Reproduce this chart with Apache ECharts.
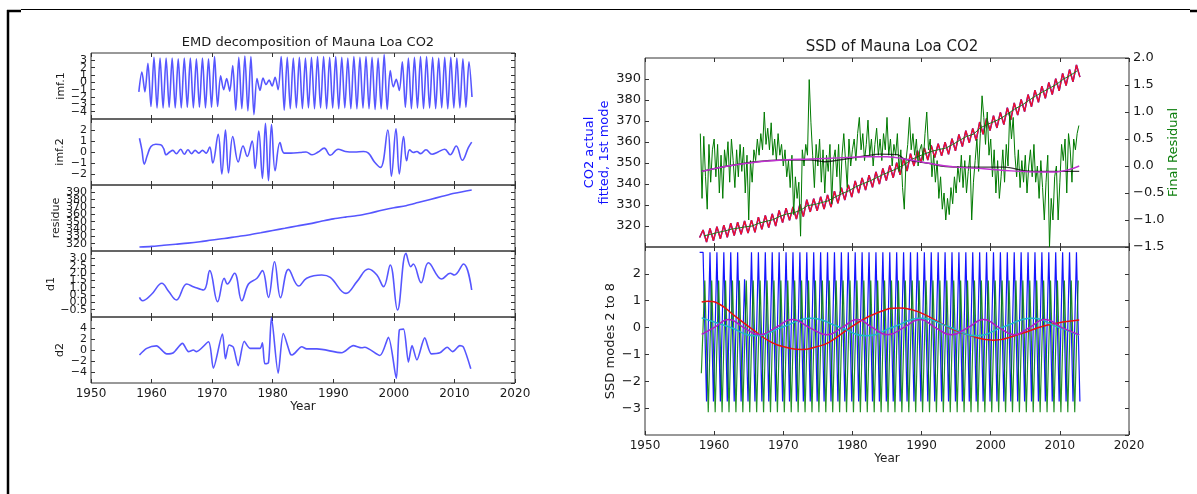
<!DOCTYPE html>
<html>
<head>
<meta charset="utf-8">
<script src="https://cdn.jsdelivr.net/npm/echarts@6/dist/echarts.min.js"></script>
<style>
html, body { margin: 0; padding: 0; background: #fff; }
#chart { width: 1197px; height: 494px; }
</style>
</head>
<body>
<div id="chart"></div>
<script>
// ---------------- data ----------------

// sampling grids: seasonal series are given as peak / trough values every half year
function halfYearGrid(start, n) {
    var t = [];
    for (var i = 0; i < n; i++) t.push(+(start + 0.5 * i).toFixed(2));
    return t;
}
function stepGrid(start, step, n) {
    var t = [];
    for (var i = 0; i < n; i++) t.push(+(start + step * i).toFixed(2));
    return t;
}
var halfYears = halfYearGrid(1957.9, 111);
var halfYearsLate = halfYearGrid(1958.15, 110);
var quarterYears = stepGrid(1958.0, 0.25, 220);
var midYears = stepGrid(1958.5, 1, 55);

// EMD panel 1 : imf.1
var imf1Values = [
    -1.3, 1.4, -1.3, 2.6, -3.3, 3.4, -3.5, 3.3, -3.5, 3.3,
    -3.4, 3.3, -3.5, 3.2, -3.5, 3.3, -3.4, 3.3, -3.5, 3.2,
    -3.4, 3.3, -3.5, 3.2, -3.4, 3.5, -3.3, 0.9, -1.0, 0.5,
    -1.2, 2.3, -3.8, 3.4, -3.6, 3.6, -3.9, 3.5, -4.4, 0.5,
    -1.1, 0.6, -0.3, 0.3, -0.5, 0.7, -1.0, 3.5, -3.8, 3.4,
    -3.6, 3.3, -3.5, 3.4, -3.6, 3.3, -3.5, 3.4, -3.6, 3.5,
    -3.5, 3.5, -3.6, 3.4, -3.5, 3.5, -3.6, 3.4, -3.5, 3.3,
    -3.6, 3.5, -3.6, 3.4, -3.5, 3.5, -3.6, 3.4, -3.7, 3.3,
    -3.6, 3.8, -3.7, 1.6, -0.6, 0.4, -1.1, 2.8, -3.4, 3.3,
    -3.6, 3.4, -3.5, 3.5, -3.6, 3.5, -3.5, 3.4, -3.6, 3.3,
    -3.5, 3.4, -3.6, 3.4, -3.5, 3.3, -3.5, 3.2, -3.4, 2.8,
    -2.0
];

// EMD panel 2 : imf.2
var imf2Years = [1958.0, 1958.4, 1958.8, 1959.3, 1959.9, 1960.7, 1961.5, 1962.0, 1962.4, 1963.0,
    1963.5, 1964.1, 1964.8, 1965.4, 1966.0, 1966.6, 1967.2, 1967.8, 1968.4, 1969.0,
    1969.6, 1970.1, 1971.0, 1971.6, 1972.2, 1972.7, 1973.4, 1974.3, 1975.1, 1975.8,
    1976.6, 1977.1, 1977.7, 1978.3, 1978.8, 1979.3, 1979.8, 1980.4, 1981.2, 1981.9,
    1983.0, 1984.5, 1985.5, 1986.5, 1987.5, 1988.5, 1989.5, 1990.8, 1992.0, 1993.5,
    1995.0, 1995.8, 1996.8, 1997.8, 1999.0, 1999.6, 2000.35, 2000.9, 2001.6, 2002.1,
    2002.6, 2003.2, 2003.8, 2004.4, 2005.3, 2006.3, 2007.3, 2008.4, 2009.3, 2010.3,
    2011.3, 2012.3, 2012.85];
var imf2Values = [1.25, 0.2, -1.1, -0.3, 0.5, 0.7, 0.65, 0.3, -0.25, 0.0,
    0.15, -0.15, 0.25, -0.2, 0.2, -0.15, 0.15, -0.1, 0.15, -0.1,
    0.45, -1.0, 1.6, -2.0, 2.0, -1.9, 1.4, -0.9, 0.55, -0.4,
    1.0, -1.5, 1.9, -2.4, 2.6, -2.6, 2.5, -1.7, 0.85, -0.1,
    -0.1, -0.05, 0.0, -0.25, 0.0, 0.35, -0.3, 0.25, 0.05, 0.0,
    0.05, -0.1, -0.9, -1.4, 2.0, -2.2, 2.1, -2.0, 1.4, -0.8,
    0.2, -0.05, 0.05, -0.15, 0.2, -0.2, 0.0, 0.25, -0.25, 0.55,
    -0.75, 0.4, 0.9];

// EMD panel 3 : residue
var residueYears = [1958.0, 1960, 1962, 1964, 1966, 1968, 1970, 1972, 1974, 1976, 1978, 1980, 1982, 1984,
    1986, 1988, 1990, 1992, 1994, 1996, 1998, 2000, 2002, 2004, 2006, 2008, 2010, 2012.85];
var residueValues = [315.5, 316.3, 317.9, 319.3, 320.7, 322.6, 325.0, 327.0, 329.5, 331.9, 334.9, 338.0, 341.0, 344.1,
    347.0, 350.5, 353.8, 356.2, 358.3, 361.6, 365.5, 369.0, 371.8, 376.0, 380.3, 384.6, 388.8, 393.3];

// EMD panel 4 : d1
var d1Years = [1958.0, 1958.5, 1960.0, 1961.7, 1962.8, 1964.1, 1965.8, 1967.0, 1968.6, 1969.6,
    1970.9, 1972.0, 1972.5, 1973.7, 1974.9, 1976.0, 1977.4, 1978.3, 1979.3, 1980.3,
    1981.3, 1982.6, 1984.3, 1985.6, 1988.1, 1989.5, 1992.1, 1993.9, 1995.8, 1997.2,
    1998.3, 1999.4, 2000.6, 2002.0, 2002.8, 2003.2, 2004.5, 2005.7, 2007.9, 2009.3,
    2010.0, 2011.5, 2012.85];
var d1Values = [0.34, 0.11, 0.55, 1.30, 0.75, 0.16, 1.25, 1.05, 0.84, 2.16,
    0.04, 1.64, 1.25, 1.98, 0.11, 1.25, 1.64, 2.16, 0.34, 2.77,
    0.32, 2.25, 1.11, 1.64, 1.86, 1.70, 0.61, 1.41, 2.27, 1.86,
    1.07, 2.55, -0.52, 3.34, 2.43, 2.61, 1.34, 2.70, 1.59, 1.98,
    1.86, 2.61, 0.84];

// EMD panel 5 : d2
var d2Years = [1958.0, 1959.2, 1960.8, 1962.5, 1963.6, 1965.1, 1966.1, 1966.9, 1967.4, 1969.4,
    1970.2, 1971.7, 1972.2, 1972.8, 1973.5, 1974.3, 1975.3, 1976.25, 1977.9, 1978.3,
    1978.7, 1979.3, 1979.8, 1980.9, 1981.75, 1982.9, 1983.2, 1984.8, 1985.6, 1987.3,
    1991.4, 1993.3, 1994.7, 1995.2, 1997.7, 1999.1, 2000.4, 2000.9, 2001.6, 2002.4,
    2003.0, 2003.8, 2005.1, 2006.2, 2007.6, 2008.8, 2009.7, 2010.9, 2011.5, 2012.7];
var d2Values = [-0.9, 0.3, 0.75, -0.7, -0.5, 1.2, -0.3, 0.0, -0.3, 1.5,
    -3.3, 2.9, -1.6, 0.9, 0.5, -2.85, 1.6, 0.3, 0.3, 1.3,
    -2.5, -2.3, 5.9, -4.2, 3.0, -0.7, -0.9, 0.6, 0.2, 0.2,
    -0.5, 0.8, 0.4, 0.5, -1.0, 2.3, -5.15, 3.6, 3.8, -2.2,
    0.8, -1.8, 2.2, -0.7, -0.5, 0.5, -0.3, 0.8, 0.5, -3.4];

// SSD top panel : CO2 actual / fitted (peak, trough every half year)
var co2Values = [314.5,
    318.1, 312.3, 318.8, 313.0, 319.7, 313.9, 320.4, 314.6, 321.3, 315.5,
    321.8, 316.0, 322.4, 316.6, 322.8, 317.0, 324.2, 318.4, 325.0, 319.2,
    325.8, 320.0, 327.4, 321.6, 328.5, 322.7, 329.1, 323.3, 330.3, 324.5,
    332.5, 326.7, 333.0, 327.2, 333.9, 328.1, 334.8, 329.0, 336.6, 330.8,
    338.2, 332.4, 339.6, 333.8, 341.5, 335.7, 342.9, 337.1, 344.2, 338.4,
    345.8, 340.0, 347.4, 341.6, 348.8, 343.0, 350.2, 344.4, 352.0, 346.2,
    354.4, 348.6, 355.9, 350.1, 357.2, 351.4, 358.4, 352.6, 359.2, 353.4,
    359.9, 354.1, 361.6, 355.8, 363.6, 357.8, 365.4, 359.6, 366.5, 360.7,
    369.5, 363.7, 371.2, 365.4, 372.5, 366.7, 374.1, 368.3, 376.3, 370.5,
    378.6, 372.8, 380.3, 374.5, 382.6, 376.8, 384.7, 378.9, 386.6, 380.8,
    388.4, 382.6, 390.2, 384.4, 392.7, 386.9, 394.5, 388.7, 396.7, 390.9];

// SSD top panel : 1st mode (trend), yearly
var co2Trend = [315.3, 316.0, 316.9, 317.6, 318.5, 319.0, 319.6, 320.0, 321.4, 322.2,
    323.0, 324.6, 325.7, 326.3, 327.5, 329.7, 330.2, 331.1, 332.0, 333.8,
    335.4, 336.8, 338.7, 340.1, 341.4, 343.0, 344.6, 346.0, 347.4, 349.2,
    351.6, 353.1, 354.4, 355.6, 356.4, 357.1, 358.8, 360.8, 362.6, 363.7,
    366.7, 368.4, 369.7, 371.3, 373.5, 375.8, 377.5, 379.8, 381.9, 383.8,
    385.6, 387.4, 389.9, 391.7, 393.9];

// SSD top panel : final residual (right axis), quarterly
var residualValues = [
    0.6, -0.6, 0.55, -0.2,   -0.8, 0.4, -0.3, 0.3,   0.5, -0.2, 0.4, -0.5,   0.2, -0.6, 0.3, 0.0,
    0.45, -0.3, 0.5, 0.1,    -0.4, 0.3, -0.2, 0.4,   -0.1, 0.35, -0.5, 0.2,  -1.0, 0.1, -0.3, 0.3,
    0.1, 0.5, 0.2, 0.6,      0.3, 1.0, 0.4, 0.7,     0.3, 0.8, 0.2, 0.5,     0.1, 0.6, 0.2, 0.4,
    0.0, 0.3, -0.2, 0.1,     -0.4, 0.2, -0.9, -0.2,  -0.6, -0.3, -1.3, 0.3,  0.0, 0.4, 0.2, 1.6,
    0.8, 0.2, -0.4, 0.4,     0.0, 0.5, -0.3, 0.3,    -0.5, 0.2, -0.1, 0.4,   -0.7, 0.1, 0.3, -0.2,
    0.4, -0.5, 0.2, 0.6,     0.1, -0.4, 0.5, 0.0,    0.3, 0.5, 0.1, 0.6,     0.9, 0.3, 0.6, 0.1,
    0.4, 0.85, 0.2, 0.5,     0.0, 0.4, 0.7, 0.2,     0.5, 0.1, 0.6, 0.3,     0.9, 0.2, 0.5, 0.0,
    0.4, 0.2, 0.6, -0.1,     0.3, -0.4, -0.8, 0.1,   0.4, 0.9, 0.3, 0.6,     0.2, 0.5, 0.0, 0.3,
    0.4, 0.1, 0.6, 1.0,      0.3, 0.5, -0.2, 0.2,    -0.3, 0.1, -0.6, -0.2,  -0.8, -0.5, -1.0, -0.6,
    -0.9, -0.4, -0.7, -0.2,  -0.5, 0.0, -0.3, 0.2,   -0.4, 0.1, -0.5, -0.1,  0.2, -1.0, -0.3, 0.1,
    0.5, -0.1, 0.6, 1.3,     0.9, 0.4, 1.0, 0.2,     0.5, -0.2, 0.3, -0.5,   0.1, -0.6, -0.2, 0.3,
    -0.3, 0.4, 0.0, 1.0,     0.5, 0.9, 0.2, -0.2,    0.3, -0.4, 0.1, -0.3,   0.2, -0.5, 0.0, 0.3,
    -0.2, 0.4, -0.3, 0.0,    -0.6, 0.1, -0.4, -1.0,  -0.3, 0.2, -1.5, -0.6,  -1.0, -0.2, 0.0, -1.0,
    -0.3, 0.4, 0.1, 0.5,     -0.5, 0.6, 0.3, -0.3,   0.5, 0.3, 0.6, 0.75
];

// SSD top panel : smooth curves on the residual axis
var blackYears = [1958.2, 1962, 1966, 1970, 1974, 1976, 1979, 1982, 1984, 1986.5,
    1987.5, 1989.5, 1991, 1993.5, 1996, 2002, 2005, 2008, 2012.8];
var blackValues = [-0.1, 0.0, 0.08, 0.11, 0.11, 0.08, 0.13, 0.19, 0.22, 0.21,
    0.13, 0.08, 0.05, -0.01, -0.02, -0.02, -0.09, -0.1, -0.1];
var magentaYears = [1958.2, 1962, 1966, 1970, 1974, 1978, 1982, 1985, 1988, 1991,
    1995, 1999, 2003, 2007, 2009.5, 2011.5, 2012.8];
var magentaValues = [-0.1, 0.0, 0.07, 0.11, 0.13, 0.15, 0.17, 0.17, 0.12, 0.05,
    -0.02, -0.05, -0.09, -0.11, -0.11, -0.06, 0.0];

// SSD bottom panel : modes 2 to 8
var ssdBlue = [
    2.8, 2.8, -2.75, 2.8, -2.75, 2.8, -2.75, 2.8, -2.75, 2.8,
    -2.75, 2.8, -2.75, 1.8, -2.75, 2.8, -2.75, 2.8, -2.75, 2.8,
    -2.75, 2.8, -2.75, 2.8, -2.75, 2.8, -2.75, 2.8, -2.75, 2.8,
    -2.75, 2.8, -2.75, 2.8, -2.75, 2.8, -2.75, 2.8, -2.75, 2.8,
    -2.75, 2.8, -2.75, 2.8, -2.75, 2.8, -2.75, 2.8, -2.75, 2.8,
    -2.75, 2.8, -2.75, 2.8, -2.75, 2.8, -2.75, 2.8, -2.75, 2.8,
    -2.75, 2.8, -2.75, 2.8, -2.75, 2.8, -2.75, 2.8, -2.75, 2.8,
    -2.75, 2.8, -2.75, 2.8, -2.75, 2.8, -2.75, 2.8, -2.75, 2.8,
    -2.75, 2.8, -2.75, 2.8, -2.75, 2.8, -2.75, 2.8, -2.75, 2.8,
    -2.75, 2.8, -2.75, 2.8, -2.75, 2.8, -2.75, 2.8, -2.75, 2.8,
    -2.75, 2.8, -2.75, 2.8, -2.75, 2.8, -2.75, 2.8, -2.75, 2.8,
    -2.75
];
var ssdGreen = [
    -1.7, 1.75, -3.15, 1.75, -3.15, 1.75, -3.15, 1.75, -3.15, 1.75,
    -3.15, 1.75, -3.15, 1.75, -3.15, 1.75, -3.15, 1.75, -3.15, 1.75,
    -3.15, 1.75, -3.15, 1.75, -3.15, 1.75, -3.15, 1.75, -3.15, 1.75,
    -3.15, 1.75, -3.15, 1.75, -3.15, 1.75, -3.15, 1.75, -3.15, 1.75,
    -3.15, 1.75, -3.15, 1.75, -3.15, 1.75, -3.15, 1.75, -3.15, 1.75,
    -3.15, 1.75, -3.15, 1.75, -3.15, 1.75, -3.15, 1.75, -3.15, 1.75,
    -3.15, 1.75, -3.15, 1.75, -3.15, 1.75, -3.15, 1.75, -3.15, 1.75,
    -3.15, 1.75, -3.15, 1.75, -3.15, 1.75, -3.15, 1.75, -3.15, 1.75,
    -3.15, 1.75, -3.15, 1.75, -3.15, 1.75, -3.15, 1.75, -3.15, 1.75,
    -3.15, 1.75, -3.15, 1.75, -3.15, 1.75, -3.15, 1.75, -3.15, 1.75,
    -3.15, 1.75, -3.15, 1.75, -3.15, 1.75, -3.15, 1.75, -3.15, 1.75
];
var ssdRedYears = [1958.2, 1959.1, 1960.9, 1962.7, 1965.5, 1968.3, 1970.5, 1972.7, 1974.7, 1976.6,
    1980.4, 1983.8, 1986.8, 1988.6, 1990.4, 1993.7, 1997.0, 2000.4, 2004.2, 2008.1, 2012.8];
var ssdRed = [0.95, 0.98, 0.85, 0.49, -0.06, -0.55, -0.74, -0.82, -0.72, -0.55,
    0.12, 0.57, 0.73, 0.66, 0.49, 0.04, -0.3, -0.47, -0.24, 0.09, 0.28];
var ssdCyanYears = [1958.2, 1962.1, 1966.0, 1970.0, 1974.0, 1978.0, 1982.0, 1986.0, 1989.9, 1993.9,
    1997.9, 2001.9, 2005.9, 2009.6, 2012.8];
var ssdCyan = [0.36, 0.03, -0.3, 0.03, 0.35, 0.03, -0.3, 0.03, 0.35, 0.03,
    -0.3, 0.03, 0.35, 0.03, -0.28];
var ssdMagentaYears = [1958.2, 1960.1, 1962.1, 1964.3, 1966.6, 1968.9, 1971.3, 1973.8, 1976.3, 1978.5,
    1980.7, 1982.9, 1985.1, 1987.4, 1989.8, 1992.0, 1994.3, 1996.7, 1999.0, 2001.2,
    2003.4, 2005.6, 2007.8, 2010.3, 2012.8];
var ssdMagenta = [-0.25, 0.02, 0.3, 0.0, -0.27, 0.0, 0.3, 0.0, -0.27, 0.0,
    0.3, 0.0, -0.27, 0.0, 0.3, 0.0, -0.27, 0.0, 0.3, 0.0,
    -0.27, 0.0, 0.3, 0.0, -0.27];

// ---------------- chart ----------------
var FONT = 'DejaVu Sans';
var AX = '#333';
var TXT = '#1a1a1a';
var MINUS = '\u2212';

function zip(xs, ys) {
    return ys.map(function (y, i) { return [xs[i], y]; });
}
function tickFmt(dec) {
    return function (v) {
        var s = dec ? v.toFixed(dec) : String(Math.round(v));
        return s.replace('-', MINUS);
    };
}

function xAx(g, pos, showLabel, name, gap) {
    return {
        gridIndex: g, type: 'value', position: pos,
        min: 1950, max: 2020, interval: 10,
        axisLine: { show: false, onZero: false }, splitLine: { show: false },
        axisTick: { show: true, inside: true, length: 4, lineStyle: { color: AX } },
        axisLabel: { show: showLabel, formatter: function (v) { return String(v); },
            color: TXT, fontFamily: FONT, fontSize: 12, margin: 5 },
        name: name || '', nameLocation: 'middle', nameGap: gap || 0,
        nameTextStyle: { color: TXT, fontFamily: FONT, fontSize: 12 }
    };
}

function yAx(g, pos, c) {
    return {
        gridIndex: g, type: 'value', position: pos,
        min: c.min, max: c.max, interval: c.interval,
        axisLine: { show: false, onZero: false }, splitLine: { show: false },
        axisTick: { show: true, inside: true, length: 4, lineStyle: { color: AX } },
        axisLabel: {
            show: !!c.label, formatter: tickFmt(c.dec || 0), color: TXT, fontFamily: FONT,
            fontSize: c.fs || 11, margin: 4,
            showMinLabel: !!c.ends, showMaxLabel: !!c.ends
        },
        name: c.name || '', nameLocation: 'middle', nameGap: c.gap || 0, nameRotate: 90,
        nameMoveOverlap: false,
        nameTextStyle: { color: c.nameColor || TXT, fontFamily: FONT, fontSize: c.nfs || 12, lineHeight: 15 }
    };
}

function line(xi, yi, data, color, width, smooth) {
    return {
        type: 'line', xAxisIndex: xi, yAxisIndex: yi, data: data,
        symbol: 'none', showSymbol: false, smooth: smooth || false,
        lineStyle: { color: color, width: width }, itemStyle: { color: color },
        silent: true
    };
}

var leftPanels = [
    { name: 'imf.1', min: -5, max: 4, interval: 1, dec: 0, gap: 22 },
    { name: 'imf.2', min: -3, max: 3, interval: 1, dec: 0, gap: 23 },
    { name: 'residue', min: 310, max: 400, interval: 10, dec: 0, gap: 27 },
    { name: 'd1', min: -1, max: 3.5, interval: 0.5, dec: 1, gap: 32 },
    { name: 'd2', min: -6, max: 6, interval: 2, dec: 0, gap: 23 }
];
var leftData = [
    zip(halfYears, imf1Values),
    zip(imf2Years, imf2Values),
    zip(residueYears, residueValues),
    zip(d1Years, d1Values),
    zip(d2Years, d2Values)
];
var leftSmooth = [0.3, 0.4, 0.3, 0.4, 0.25];

var grids = [], xAxes = [], yAxes = [], series = [];
var EMD_BLUE = 'rgba(30,30,255,0.75)';

leftPanels.forEach(function (p, k) {
    grids.push({ left: 91, top: 53 + 66 * k, width: 424, height: 66,
        show: true, borderColor: AX, borderWidth: 1, backgroundColor: 'transparent' });
    xAxes.push(xAx(k, 'bottom', k === 4, k === 4 ? 'Year' : '', 17));
    xAxes.push(xAx(k, 'top', false));
    yAxes.push(yAx(k, 'left', { min: p.min, max: p.max, interval: p.interval, dec: p.dec,
        label: true, name: p.name, gap: p.gap, nfs: 11 }));
    yAxes.push(yAx(k, 'right', { min: p.min, max: p.max, interval: p.interval }));
    series.push(line(2 * k, 2 * k, leftData[k], EMD_BLUE, 1.6, leftSmooth[k]));
});

// right chart: grid 5 (top), grid 6 (bottom)
grids.push({ left: 645, top: 58, width: 484, height: 189,
    show: true, borderColor: AX, borderWidth: 1, backgroundColor: 'transparent' });
grids.push({ left: 645, top: 247, width: 484, height: 188,
    show: true, borderColor: AX, borderWidth: 1, backgroundColor: 'transparent' });

xAxes.push(xAx(5, 'bottom', false));          // 10
xAxes.push(xAx(5, 'top', false));             // 11
xAxes.push(xAx(6, 'bottom', true, 'Year', 17)); // 12
xAxes.push(xAx(6, 'top', false));             // 13

yAxes.push(yAx(5, 'left', { min: 310, max: 400, interval: 10, label: true, fs: 13,
    name: 'CO2 actual\nfitted, 1st mode', nameColor: '#1010ff', gap: 33, nfs: 13 }));      // 10
yAxes.push(yAx(5, 'right', { min: -1.5, max: 2.0, interval: 0.5, dec: 1, label: true, ends: true, fs: 13,
    name: 'Final Residual', nameColor: '#108010', gap: 37, nfs: 13 }));                   // 11
yAxes.push(yAx(6, 'left', { min: -4, max: 3, interval: 1, label: true, fs: 13,
    name: 'SSD modes 2 to 8', gap: 27, nfs: 13 }));                                        // 12
yAxes.push(yAx(6, 'right', { min: -4, max: 3, interval: 1 }));                            // 13

// top panel
series.push(line(10, 10, zip(halfYears, co2Values), '#2020ff', 1.5));
series.push(line(10, 10, zip(halfYears, co2Values), '#f0102a', 1.4));
series.push(line(10, 10, zip(midYears, co2Trend), '#1a7a1a', 1));
series.push(line(10, 11, zip(quarterYears, residualValues), '#007a00', 1));
series.push(line(10, 11, zip(blackYears, blackValues), 'rgba(0,0,0,0.75)', 1.4, 0.4));
series.push(line(10, 11, zip(magentaYears, magentaValues), '#c030d0', 1.4, 0.4));

// bottom panel
series.push(line(12, 12, zip(halfYears, ssdBlue), '#1515ff', 1.2));
series.push(line(12, 12, zip(halfYearsLate, ssdGreen), 'rgba(0,128,0,0.85)', 1.2));
series.push(line(12, 12, zip(ssdRedYears, ssdRed), '#e81010', 1.5, 0.5));
series.push(line(12, 12, zip(ssdCyanYears, ssdCyan), '#20b8c8', 1.5, 0.5));
series.push(line(12, 12, zip(ssdMagentaYears, ssdMagenta), '#b020c0', 1.5, 0.5));

var option = {
    animation: false,
    backgroundColor: '#fff',
    title: [
        { text: 'EMD decomposition of Mauna Loa CO2', left: 303, top: 31, textAlign: 'center',
          textStyle: { fontFamily: FONT, fontSize: 13, fontWeight: 'normal', color: TXT } },
        { text: 'SSD of Mauna Loa CO2', left: 887, top: 35, textAlign: 'center',
          textStyle: { fontFamily: FONT, fontSize: 15, fontWeight: 'normal', color: TXT } }
    ],
    grid: grids,
    xAxis: xAxes,
    yAxis: yAxes,
    series: series,
    graphic: [
        { type: 'line', shape: { x1: 8, y1: 10, x2: 8, y2: 494 }, style: { stroke: '#000', lineWidth: 2.5 } },
        { type: 'line', shape: { x1: 7, y1: 11, x2: 21, y2: 11 }, style: { stroke: '#000', lineWidth: 2.5 } },
        { type: 'line', shape: { x1: 21, y1: 9.5, x2: 1190, y2: 9.5 }, style: { stroke: '#000', lineWidth: 1.2 } },
        { type: 'line', shape: { x1: 1190, y1: 11, x2: 1197, y2: 11 }, style: { stroke: '#000', lineWidth: 2.5 } }
    ]
};

var chart = echarts.init(document.getElementById('chart'));
chart.setOption(option);
</script>
</body>
</html>
